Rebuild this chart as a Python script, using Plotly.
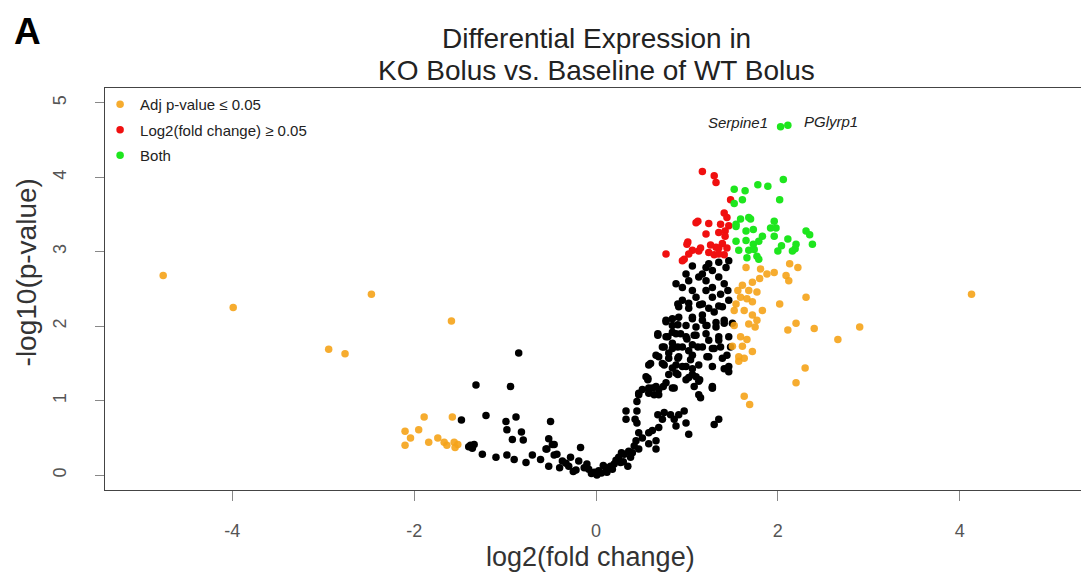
import plotly.graph_objects as go

# ---------------- data ----------------
black_x = [-0.85, -1.32, -0.94, -1.21, -0.88, -1.48, -0.99, -0.98, -0.50, -0.82, -0.92, -0.80, -0.52,
           -1.38, -1.34, -1.36, -1.40, -1.25, -1.10, -0.98, -0.90, -0.77, -0.70, -0.61, -0.54, -0.46,
           -0.52, -0.46,
           -0.48, -0.55, -0.17, -0.43, -0.37, -0.28, -0.30, -0.19, -0.13, -0.08, -0.02, 0.03, 0.11, 0.16,
           0.01, 0.25, 0.31, 0.27, 0.36, 0.42, 0.38, 0.47, 0.44, 0.51, 0.47, 0.58, 0.66, 0.66, 0.58, 0.45,
           0.43, 0.33, 0.33, 0.45, 0.45, 0.47, 0.57, 0.58, 0.64, 0.69, 0.74, 0.68, 0.75, 0.73, 0.69, 0.62,
           0.82, 0.86, 0.88, 0.91, 0.97, 0.99, 1.02, 0.86, 1.15, 1.28, 1.30, 1.35, 0.88, 1.06, 1.13, 1.46,
           -0.22, -0.05, 0.06, 0.08, 0.20, 0.22, 0.30, 0.35, -0.33, -0.25, 0.12, 0.18, -0.10, -0.40, 0.28, 0.40,
           0.88, 0.99, 1.06, 0.95, 1.17, 1.21, 1.28, 1.35, 1.43, 1.41, 1.28, 1.21, 1.10, 0.95, 0.91, 1.02,
           1.17, 1.28, 1.37, 1.45, 1.46, 1.39, 1.30, 1.17, 1.06, 0.91, 0.77, 0.84, 0.99, 1.10, 1.22, 1.32,
           1.41, 1.50, 0.68, 0.77, 0.88, 0.99, 1.10, 1.21, 1.35, 1.46, 0.73, 0.84, 0.95, 1.06, 1.17, 1.28,
           1.37, 1.48, 0.66, 0.80, 0.91, 1.06, 1.24, 1.44, 0.58, 0.73, 0.88, 0.99, 1.13, 1.28, 1.46, 0.55,
           0.66, 0.77, 0.99, 1.10, 1.28, 1.06, 1.02, 1.24, 1.35, 1.46, 1.21, 1.13,
           0.90, 1.02, 1.14, 1.24, 1.35, 0.77, 0.84, 0.90, 1.06, 1.17, 1.21, 1.32, 1.41, 0.68, 0.79, 0.84,
           0.93, 1.00, 1.08, 1.24, 1.35, 0.75, 0.84, 0.90, 1.02, 1.12, 1.30, 0.69, 0.80, 0.90, 1.04, 1.22,
           1.39, 0.60, 0.75, 0.84, 0.95, 1.06, 1.41, 0.57, 0.80, 0.90, 1.02, 1.14, 0.51, 0.62, 0.84, 1.08,
           1.28, 0.47, 0.58, 0.69, 1.13]
black_y = [1.64, 1.21, 1.19, 0.80, 0.78, 0.74, 0.72, 0.61, 0.72, 0.58, 0.48, 0.47, 0.49,
           0.40, 0.41, 0.36, 0.38, 0.28, 0.24, 0.27, 0.21, 0.17, 0.27, 0.21, 0.35, 0.41,
           0.12, 0.27,
           0.41, 0.35, 0.37, 0.28, 0.19, 0.24, 0.12, 0.19, 0.10, 0.08, 0.04, 0.06, 0.10, 0.12,
           0.00, 0.24, 0.28, 0.17, 0.32, 0.39, 0.24, 0.35, 0.46, 0.50, 0.57, 0.57, 0.35, 0.46, 0.42, 0.70,
           0.75, 0.75, 0.86, 0.86, 0.99, 1.10, 1.30, 1.17, 1.08, 1.15, 1.19, 0.81, 0.84, 0.75, 0.64, 0.60,
           0.81, 0.75, 0.66, 0.81, 0.86, 0.70, 0.55, 1.17, 1.04, 1.17, 0.68, 0.75, 1.37, 1.35, 1.26, 1.39,
           0.07, 0.02, 0.03, 0.13, 0.15, 0.20, 0.18, 0.12, 0.16, 0.05, 0.04, 0.08, 0.15, 0.10, 0.30, 0.30,
           2.57, 2.70, 2.81, 2.52, 2.70, 2.61, 2.75, 2.66, 2.79, 2.57, 2.52, 2.48, 2.39, 2.35, 2.26, 2.24,
           2.30, 2.39, 2.43, 2.48, 2.35, 2.26, 2.19, 2.15, 2.10, 2.12, 2.08, 2.01, 2.01, 1.99, 2.01, 1.99,
           2.04, 2.04, 1.88, 1.86, 1.90, 1.86, 1.88, 1.90, 1.86, 1.86, 1.72, 1.77, 1.72, 1.75, 1.72, 1.70,
           1.72, 1.72, 1.61, 1.64, 1.59, 1.61, 1.59, 1.61, 1.48, 1.50, 1.48, 1.46, 1.48, 1.46, 1.46, 1.32,
           1.19, 1.24, 1.28, 1.32, 1.19, 2.48, 2.61, 2.84, 2.86, 2.88, 2.79, 2.66,
           2.30, 2.31, 2.29, 2.24, 2.27, 2.06, 2.10, 2.02, 2.12, 2.08, 2.01, 2.05, 2.08, 1.90, 1.86, 1.92,
           1.90, 1.83, 1.88, 1.81, 1.81, 1.72, 1.70, 1.72, 1.67, 1.72, 1.70, 1.59, 1.57, 1.57, 1.55, 1.59,
           1.57, 1.50, 1.48, 1.44, 1.46, 1.43, 1.43, 1.28, 1.35, 1.35, 1.31, 1.28, 1.15, 1.17, 1.17, 1.19,
           1.17, 1.08, 1.10, 1.08, 1.08]

orange_x = [-4.76, -3.99, -2.47, -1.59, -2.94, -2.76, 4.13,
            -1.89, -1.58, -2.10, -1.95, -2.04, -2.10, -1.84, -1.74, -1.67, -1.64, -1.56, -1.55, -1.52,
            2.13, 2.22, 1.96, 1.88, 2.09, 2.12, 1.65, 1.81, 1.80, 1.72, 1.61, 1.56, 1.68, 1.77, 1.59,
            1.66, 1.54, 1.72, 2.31, 2.02, 1.63, 1.83, 1.72, 1.77, 1.68, 1.75, 2.20, 2.11, 2.40, 2.90,
            2.66, 1.59, 1.66, 1.61, 1.72, 1.57, 1.63, 1.57, 2.30, 2.20, 1.63, 1.69, 1.52, 1.52, 1.50]
orange_y = [2.68, 2.25, 2.43, 2.07, 1.69, 1.63, 2.43,
            0.78, 0.78, 0.59, 0.61, 0.50, 0.40, 0.44, 0.50, 0.44, 0.40, 0.44, 0.37, 0.41,
            2.84, 2.79, 2.72, 2.70, 2.68, 2.61, 2.79, 2.77, 2.64, 2.59, 2.55, 2.48, 2.48, 2.46, 2.39,
            2.37, 2.30, 2.33, 2.39, 2.30, 2.21, 2.21, 2.15, 2.08, 2.03, 1.99, 2.04, 1.95, 1.97, 1.99,
            1.82, 1.86, 1.82, 1.73, 1.66, 1.59, 1.57, 1.53, 1.44, 1.24, 1.06, 0.95, 2.21, 2.01, 1.73]

red_x = [1.17, 1.30, 1.32, 1.48, 1.41, 1.44, 1.12, 1.24, 1.37, 1.46, 1.21, 1.35, 1.42, 1.01, 1.26,
         1.15, 1.06, 1.35, 1.44, 0.77, 0.97, 1.24, 1.30, 1.41, 1.39, 1.42, 1.10, 1.32, 1.02, 0.95,
         1.13, 1.00, 1.35]
red_y = [4.08, 4.02, 3.93, 3.70, 3.52, 3.46, 3.41, 3.38, 3.37, 3.35, 3.24, 3.26, 3.28, 3.13, 3.09,
         3.05, 3.02, 3.05, 3.05, 2.97, 2.90, 2.99, 2.96, 2.96, 3.11, 3.21, 3.39, 3.06, 2.97, 2.88,
         3.01, 3.10, 2.97]

green_x = [2.03, 2.11,
           1.52, 1.64, 1.78, 1.89, 2.06, 1.61, 2.02, 1.52, 1.59, 1.70, 1.96, 1.54, 1.65, 1.73, 1.92,
           2.31, 2.35, 2.38, 1.83, 1.96, 2.11, 2.20, 1.54, 1.65, 1.73, 1.79, 2.04, 2.19, 2.00, 1.57,
           1.68, 1.77, 1.66, 1.68, 1.54, 1.98, 2.16, 1.74, 1.79]
green_y = [4.68, 4.70,
           3.84, 3.82, 3.90, 3.88, 3.97, 3.70, 3.70, 3.65, 3.44, 3.44, 3.41, 3.34, 3.28, 3.30, 3.32,
           3.28, 3.23, 3.10, 3.21, 3.21, 3.17, 3.10, 3.14, 3.15, 3.10, 3.14, 3.08, 3.04, 3.01, 3.02,
           3.02, 2.94, 2.92, 3.46, 3.37, 3.32, 3.01, 3.03, 2.90]

x_tickvals = [-4, -2, 0, 2, 4]
x_ticktext = ["-4", "-2", "0", "2", "4"]
y_tickvals = [0, 1, 2, 3, 4, 5]
y_ticktext = ["0", "1", "2", "3", "4", "5"]

legend_names = ["Adj p-value \u2264 0.05", "Log2(fold change) \u2265 0.05", "Both"]
gene_labels = ["Serpine1", "PGlyrp1"]
title_lines = ["Differential Expression in", "KO Bolus vs. Baseline of WT Bolus"]

# ---------------- styles ----------------
FONT = "Liberation Sans, Arial, sans-serif"
C_BLACK = "#000000"
C_ORANGE = "#F5A318"
C_RED = "#F01010"
C_GREEN = "#1EE61E"
MS = 7.5

fig = go.Figure()
fig.add_trace(go.Scatter(x=black_x, y=black_y, mode="markers", showlegend=False,
                         marker=dict(color=C_BLACK, size=MS, line=dict(width=0))))
fig.add_trace(go.Scatter(x=orange_x, y=orange_y, mode="markers", name=legend_names[0],
                         legendgroup="a",
                         marker=dict(color=C_ORANGE, size=MS, opacity=0.9, line=dict(width=0))))
fig.add_trace(go.Scatter(x=red_x, y=red_y, mode="markers", name=legend_names[1],
                         legendgroup="b",
                         marker=dict(color=C_RED, size=MS, line=dict(width=0))))
fig.add_trace(go.Scatter(x=green_x, y=green_y, mode="markers", name=legend_names[2],
                         legendgroup="c",
                         marker=dict(color=C_GREEN, size=MS, line=dict(width=0))))

# gene labels
fig.add_annotation(x=green_x[0], y=green_y[0], text="<i>" + gene_labels[0] + "</i>",
                   showarrow=False, xanchor="right", xshift=-11, yshift=4,
                   font=dict(family=FONT, size=15, color="#222"))
fig.add_annotation(x=green_x[1], y=green_y[1], text="<i>" + gene_labels[1] + "</i>",
                   showarrow=False, xanchor="left", xshift=14, yshift=4,
                   font=dict(family=FONT, size=15, color="#222"))

# panel letter
fig.add_annotation(xref="paper", yref="paper", x=-0.0794, y=1.1965, xanchor="center", yanchor="top",
                   text="<b>A</b>", showarrow=False, font=dict(family=FONT, size=37, color="#000"))
# title (two lines)
fig.add_annotation(xref="paper", yref="paper", x=0.5, y=1.122, xanchor="center", yanchor="middle",
                   text=title_lines[0], showarrow=False,
                   font=dict(family=FONT, size=28, color="#222"))
fig.add_annotation(xref="paper", yref="paper", x=0.5, y=1.044, xanchor="center", yanchor="middle",
                   text=title_lines[1], showarrow=False,
                   font=dict(family=FONT, size=28, color="#222"))
# axis titles
fig.add_annotation(xref="paper", yref="paper", x=0.494, y=-0.167, xanchor="center", yanchor="middle",
                   text="log2(fold change)", showarrow=False,
                   font=dict(family=FONT, size=27, color="#333"))
fig.add_annotation(xref="paper", yref="paper", x=-0.0795, y=0.541, xanchor="center", yanchor="middle",
                   text="-log10(p-value)", textangle=-90, showarrow=False,
                   font=dict(family=FONT, size=28, color="#333"))

axis_common = dict(showgrid=False, zeroline=False, showline=True, mirror=True,
                   linecolor="#444", linewidth=1.2, ticks="outside",
                   tickcolor="#888", tickwidth=1,
                   tickfont=dict(family=FONT, size=18, color="#555"))

fig.update_layout(
    width=1089, height=573,
    margin=dict(l=97, r=10, t=80, b=91),
    paper_bgcolor="white", plot_bgcolor="white",
    font=dict(family=FONT),
    xaxis=dict(range=[-5.4, 5.4], tickmode="array", tickvals=x_tickvals, ticktext=x_ticktext,
               ticklen=10, ticklabelstandoff=14, **axis_common),
    yaxis=dict(range=[-0.2, 5.2], tickmode="array", tickvals=y_tickvals, ticktext=y_ticktext,
               ticklen=9, tickangle=-90, ticklabelstandoff=22, **axis_common),
    legend=dict(x=-0.005, y=1.0, xanchor="left", yanchor="top", bgcolor="rgba(0,0,0,0)",
                font=dict(family=FONT, size=15, color="#222"), tracegroupgap=3,
                itemwidth=30),
)

fig.write_html("out.html")
